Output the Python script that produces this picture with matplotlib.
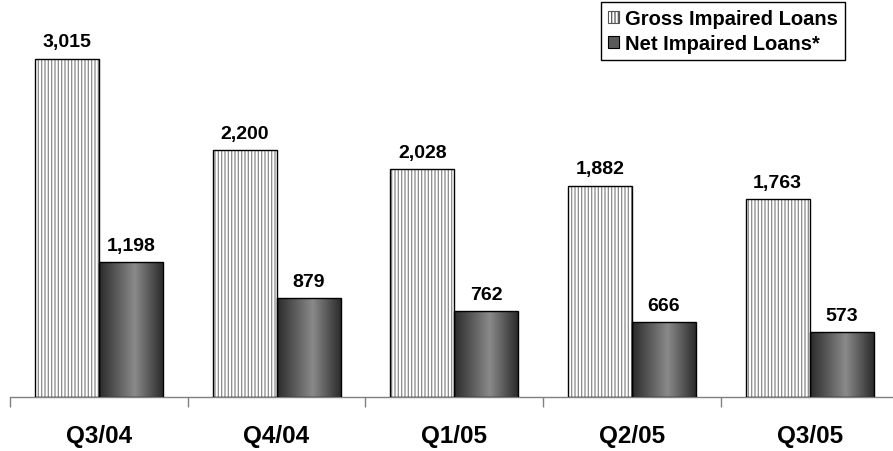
import numpy as np
import matplotlib
matplotlib.use("Agg")
import matplotlib.pyplot as plt
from matplotlib.colors import LinearSegmentedColormap
from matplotlib.patches import Patch

plt.rcParams['font.family'] = ['Liberation Sans', 'DejaVu Sans']
plt.rcParams['hatch.linewidth'] = 0.9

quarters = ['Q3/04', 'Q4/04', 'Q1/05', 'Q2/05', 'Q3/05']
gross = [3015, 2200, 2028, 1882, 1763]
net = [1198, 879, 762, 666, 573]

W, H = 893, 452
fig = plt.figure(figsize=(W / 100, H / 100), dpi=100)
ax = fig.add_axes([10 / W, 54.3 / H, 888.5 / W, 397.7 / H])

x = np.arange(len(quarters))
bw = 0.36

# gross bars: gray vertical hatch, then a black outline on top
ax.bar(x - bw / 2, gross, bw, facecolor='white', edgecolor='#8a8a8a',
       hatch='|||||', linewidth=0, zorder=2)
ax.bar(x - bw / 2, gross, bw, fill=False, edgecolor='black', linewidth=1.0, zorder=3)

# net bars: horizontal dark-light-dark gradient
grad_cmap = LinearSegmentedColormap.from_list(
    'g', [(0, '#2b2b2b'), (0.56, '#8a8a8a'), (1, '#2b2b2b')])
grad = np.linspace(0, 1, 256).reshape(1, -1)
for xi, v in zip(x, net):
    ax.imshow(grad, cmap=grad_cmap, extent=(xi, xi + bw, 0, v), aspect='auto',
              zorder=2, interpolation='bilinear')
ax.bar(x + bw / 2, net, bw, fill=False, edgecolor='black', linewidth=1.0, zorder=3)

ax.set_xlim(-0.5, 4.5)
ax.set_ylim(0, 3548)

for xi, v in zip(x, gross):
    ax.annotate(f'{v:,}', (xi - bw / 2, v), xytext=(0, 9), textcoords='offset points',
                ha='center', va='baseline', fontsize=14, fontweight='bold')
for xi, v in zip(x, net):
    ax.annotate(f'{v:,}', (xi + bw / 2, v), xytext=(0, 9), textcoords='offset points',
                ha='center', va='baseline', fontsize=14, fontweight='bold')

for s in ['top', 'right', 'left']:
    ax.spines[s].set_visible(False)
ax.spines['bottom'].set_color('#808080')
ax.spines['bottom'].set_linewidth(1.0)
ax.set_yticks([])
ax.set_xticks(x)
ax.set_xticklabels(quarters, fontsize=17.5, fontweight='bold')
ax.tick_params(axis='x', which='major', length=0, pad=20)
ax.set_xticks(np.arange(-0.5, 5, 1), minor=True)
ax.tick_params(axis='x', which='minor', length=7, width=1, color='#808080',
               direction='out')

handles = [Patch(facecolor='white', edgecolor='#555555', hatch='|||||', linewidth=0.8),
           Patch(facecolor='#5a5a5a', edgecolor='black', linewidth=0.8)]
leg = fig.legend(handles, ['Gross Impaired Loans', 'Net Impaired Loans*'],
                 loc='upper right', bbox_to_anchor=(845 / W, 1 - 3.3 / H),
                 bbox_transform=fig.transFigure, borderaxespad=0,
                 fancybox=False, edgecolor='black', framealpha=1,
                 prop={'size': 14.5, 'weight': 'bold'},
                 handlelength=0.55, handleheight=0.55, handletextpad=0.3,
                 labelspacing=0.3, borderpad=0.35)
leg.get_frame().set_linewidth(1.0)

fig.savefig('out.png', dpi=100)
